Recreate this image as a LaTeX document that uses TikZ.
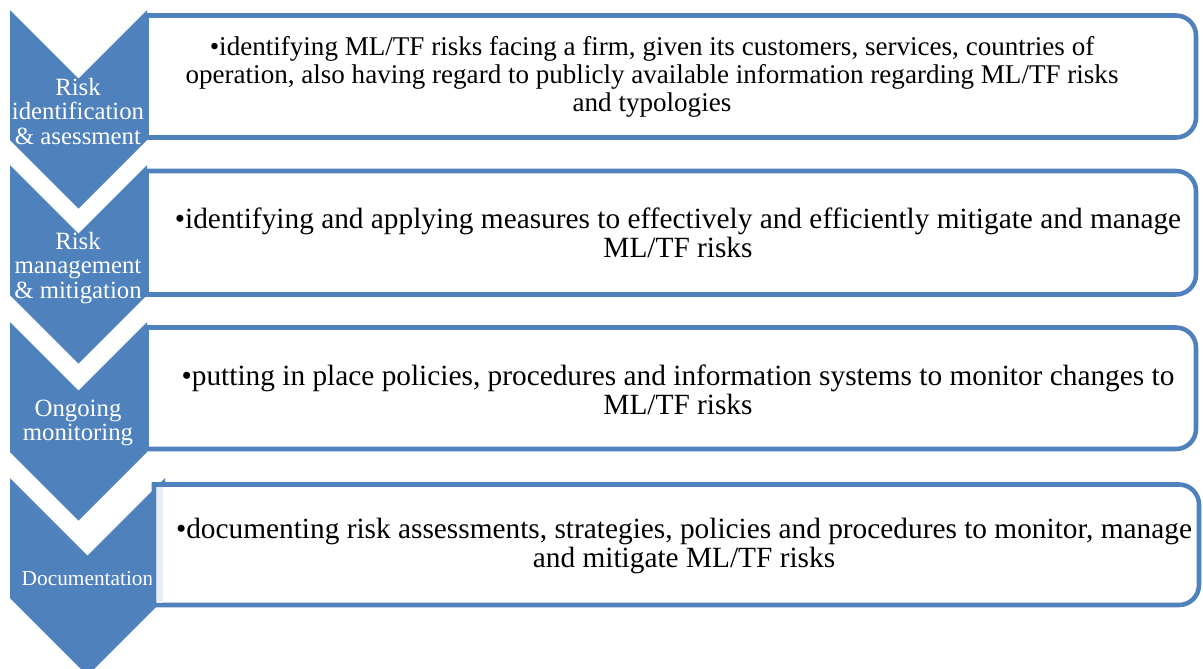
\documentclass[tikz,border=0pt]{standalone}
\usepackage{fontspec}
\setmainfont{Liberation Serif}
\definecolor{chevblue}{HTML}{4F81BD}
\definecolor{shadeblue}{HTML}{E8EDF6}

\begin{document}
\begin{tikzpicture}[x=0.75pt,y=-0.75pt,
  chev/.style={fill=chevblue,draw=none},
  chevtext/.style={text=white,align=center,inner sep=0pt,font=\fontsize{18.6}{18.6}\selectfont},
  outline/.style={draw=chevblue,line width=3.4pt,fill=white},
  bullettext/.style={align=center,inner sep=0pt,font=\fontsize{22}{22}\selectfont}]
\useasboundingbox (0,0) rectangle (1203,668);
% chevrons
\fill[chev] (10,10) -- (78.5,78.5) -- (147,10) -- (147,140) -- (78.5,208.5) -- (10,140) -- cycle;
\fill[chev] (10,165) -- (78.5,233.5) -- (147,165) -- (147,295) -- (78.5,363.5) -- (10,295) -- cycle;
\fill[chev] (10,322) -- (78.5,390.5) -- (147,322) -- (147,452) -- (78.5,520.5) -- (10,452) -- cycle;
\fill[chev] (10,478) -- (87.5,555.5) -- (165,478) -- (165,598) -- (87.5,675.5) -- (10,598) -- cycle;
\node[chevtext] (c1) at (78,111.5) {Risk\\identification\\\& asessment};
\node[chevtext] (c2) at (78,268) {Risk\\management\\\& mitigation};
\node[chevtext] (c3) at (78,423) {Ongoing\\monitoring};
\node[chevtext,font=\fontsize{16}{18}\selectfont] (c4) at (87.5,578.5) {Documentation};
% text boxes, square on the left, round on the right
\draw[outline] (146.5,137.5) -- (146.5,15.5) -- (1176,15.5) arc[start angle=-90,end angle=0,radius=20] -- (1196,117.5) arc[start angle=0,end angle=90,radius=20] -- cycle;
\draw[outline] (146.5,294.5) -- (146.5,171) -- (1176,171) arc[start angle=-90,end angle=0,radius=20] -- (1196,274.5) arc[start angle=0,end angle=90,radius=20] -- cycle;
\draw[outline] (146.5,449) -- (146.5,327.5) -- (1176,327.5) arc[start angle=-90,end angle=0,radius=20] -- (1196,429) arc[start angle=0,end angle=90,radius=20] -- cycle;
\draw[outline] (154,605) -- (154,484.5) -- (1179,484.5) arc[start angle=-90,end angle=0,radius=20] -- (1199,585) arc[start angle=0,end angle=90,radius=20] -- cycle;
\fill[shadeblue] (156.5,487) rectangle (163,602.5);
\node[bullettext,font=\fontsize{20.3}{21.2}\selectfont] (t1) at (652,77) {•identifying ML/TF risks facing a firm, given its customers, services, countries of\\operation, also having regard to publicly available information regarding ML/TF risks\\and typologies};
\node[bullettext] (t2) at (678,233) {•identifying and applying measures to effectively and efficiently mitigate and manage\\ML/TF risks};
\node[bullettext] (t3) at (678,389.5) {•putting in place policies, procedures and information systems to monitor changes to\\ML/TF risks};
\node[bullettext] (t4) at (684,546) {•documenting risk assessments, strategies, policies and procedures to monitor, manage\\and mitigate ML/TF risks};
\end{tikzpicture}
\end{document}
